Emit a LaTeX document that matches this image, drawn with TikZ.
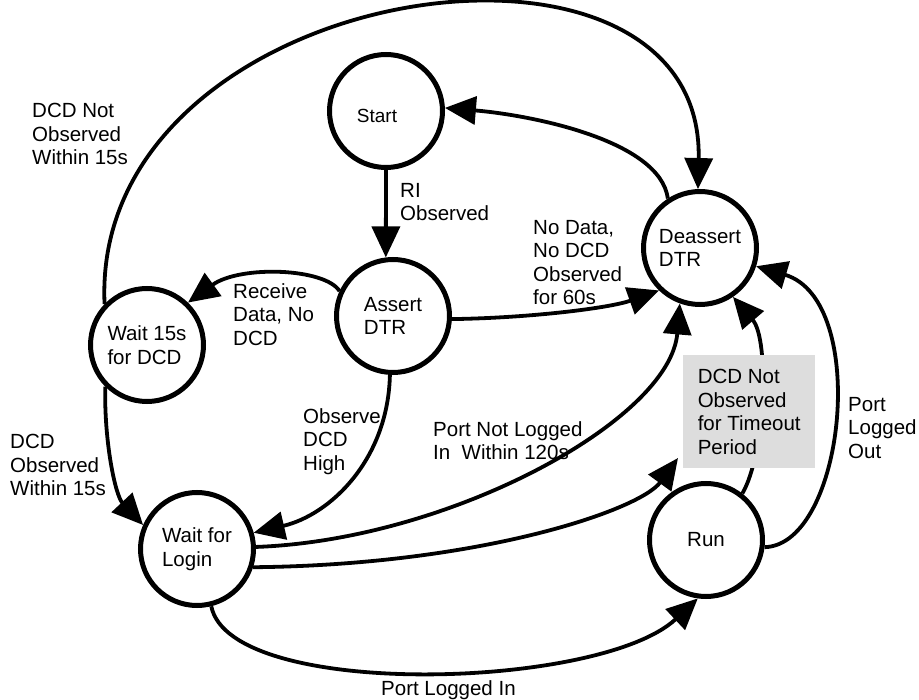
\documentclass[tikz,border=0pt]{standalone}
\usepackage{fontspec}
\setmainfont{Liberation Sans}
\usetikzlibrary{arrows.meta}
\definecolor{boxgray}{HTML}{DDDDDD}
\begin{document}
\begin{tikzpicture}[x=1pt,y=-1pt,
  txt/.style={font=\fontsize{20.5}{23.5}\selectfont},
  state/.style={circle, draw, line width=5pt, minimum size=113pt, inner sep=0pt, align=left, txt},
  tr/.style={line width=3.8pt, -{Triangle[length=31pt,width=28pt]}},
  lbl/.style={anchor=north west, inner sep=0pt, align=left, txt}]
\useasboundingbox (0,0) rectangle (919,700);

% states
\node[state, font=\fontsize{19}{22}\selectfont] (start) at (386,111) {\raisebox{-12pt}[0pt][0pt]{Start}\hspace*{18pt}};
\node[state] (assert) at (393,316) {Assert\\DTR};
\node[state] (deassert) at (700,248) {Deassert\\DTR};
\node[state] (wait15) at (147,345) {Wait 15s\\for DCD};
\node[state] (wfl) at (197,549) {Wait for\\Login};
\node[state] (run) at (706,540) {Run};
\coordinate (tipA) at (678,458);

% transitions
\draw[tr] (start.south) -- (assert.97);
\draw[tr] (deassert.123) .. controls (660,140) and (530,115) .. (start.3);
\draw[tr] (wait15.136) .. controls (90,-20) and (705,-110) .. (deassert.92);
\draw[tr] (assert.155) .. controls (325,268) and (240,265) .. (wait15.46);
\draw[tr] (assert.-3) .. controls (530,318) and (610,308) .. (deassert.226);
\draw[tr] (assert.267) .. controls (388,460) and (330,515) .. (wfl.16);
\draw[tr] (wait15.225) .. controls (104,440) and (115,495) .. (wfl.156);
\draw[tr] (wfl.2) .. controls (450,540) and (670,420) .. (deassert.250);
\draw[tr] (wfl.-18) .. controls (480,565) and (640,510) .. (tipA);
\draw[tr] (wfl.-76) .. controls (230,700) and (600,690) .. (run.-98);
\draw[tr] (run.52) .. controls (765,455) and (770,340) .. (deassert.-56);
\draw[tr] (run.-7) .. controls (845,545) and (870,300) .. (deassert.-18);

% grey label box
\node[fill=boxgray, anchor=north west, minimum width=132pt, minimum height=113pt,
      inner sep=0pt, align=left, txt] (tbox) at (683,355)
      {DCD Not\\Observed\\for Timeout\\Period};

% labels
\node[lbl] (l1) at (32,103) {DCD Not\\Observed\\Within 15s};
\node[lbl] (l2) at (400,183) {RI\\Observed};
\node[lbl] (l3) at (233,283) {Receive\\Data, No\\DCD};
\node[lbl] (l4) at (533,220) {No Data,\\No DCD\\Observed\\for 60s};
\node[lbl] (l5) at (303,408) {Observe\\DCD\\High};
\node[lbl] (l6) at (433,421) {Port Not Logged\\In\ \ Within 120s};
\node[lbl] (l7) at (10,434) {DCD\\Observed\\Within 15s};
\node[lbl] (l8) at (848,397) {Port\\Logged\\Out};
\node[lbl] (l9) at (381,680) {Port Logged In};
\end{tikzpicture}
\end{document}
